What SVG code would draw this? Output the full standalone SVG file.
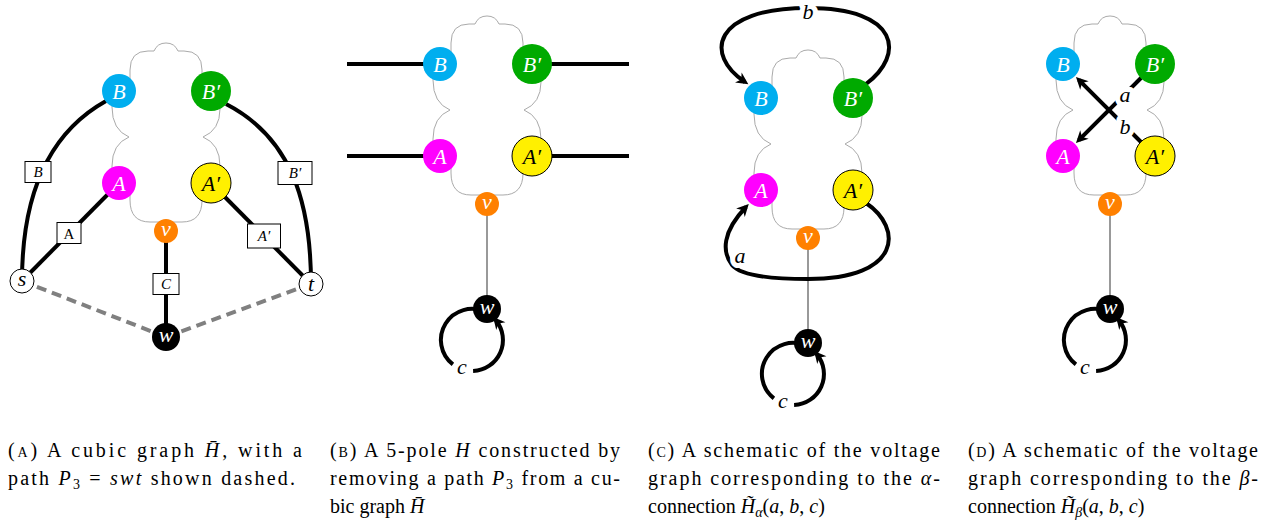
<svg xmlns="http://www.w3.org/2000/svg" width="1272" height="522" viewBox="0 0 1272 522">
<defs>
<path id="cloud" fill="none" stroke="#aaa" stroke-width="1" d="M130,91 L130,70 Q130,51 148,51 L154,51 A13,13 0 0 1 178,51 L184,51 Q202,51 202,70 L202,91 L220,100 L220,109 Q220,130 203,137 Q220,144 220,166 L220,183 L202,183 L202,200 Q202,222 182,222 L150,222 Q130,222 130,200 L130,183 L112,183 L112,166 Q112,144 129,137 Q112,130 112,107 L112,91 Z"/>
<marker id="arr" markerUnits="userSpaceOnUse" orient="auto" refX="-4" refY="0" markerWidth="1" markerHeight="1" overflow="visible">
<path d="M0,0 L-12,-6 L-8.5,0 L-12,6 Z" fill="#000" stroke="none"/>
</marker>
<g id="loop">
<path d="M164.6,339.1 A31,31 0 0 0 131.9,391.4"/>
<path d="M152.1,398 A31,31 0 0 0 174.7,347.1" marker-end="url(#arr)"/>
</g>
</defs>
<g id="clouds">
<use href="#cloud"/>
<use href="#cloud" transform="translate(321,-27)"/>
<use href="#cloud" transform="translate(642,7)"/>
<use href="#cloud" transform="translate(944,-27)"/>
</g>
<g id="connectors" fill="none" stroke="#000" stroke-width="4" font-family="Liberation Serif" font-size="22" font-style="italic" text-anchor="middle">
<g id="conn-a">
<path stroke="#808080" stroke-dasharray="10 6" d="M22,281 L166,337"/>
<path stroke="#808080" stroke-dasharray="10 6" d="M311,284 L166,337"/>
<path d="M106,101 C45,135 22,200 22,281"/>
<path d="M226,104 C290,137 311,200 311,284"/>
<path d="M119,183 L22,281"/>
<path d="M211,183 L311,284"/>
<path d="M166,231 L166,337"/>
<g fill="#fff" stroke="#000" stroke-width="1">
<rect x="25" y="161.5" width="26" height="21"/>
<rect x="57" y="222.5" width="24" height="21"/>
<rect x="278" y="161.5" width="34" height="23"/>
<rect x="247.5" y="224" width="33" height="24"/>
<rect x="153" y="273.5" width="26" height="21"/>
</g>
<g fill="#000" stroke="none" font-size="15">
<text x="38" y="177">B</text>
<text x="69" y="238.5" font-style="normal">A</text>
<text x="295" y="178">B&#8242;</text>
<text x="264" y="241">A&#8242;</text>
<text x="166" y="289">C</text>
</g>
</g>
<g id="conn-b" transform="translate(321,-27)">
<path d="M26,91 L119,91"/>
<path d="M26,183 L119,183"/>
<path d="M211,91 L308,91"/>
<path d="M211,183 L308,183"/>
<path stroke="#555" stroke-width="1.2" d="M166,231 L166,336"/>
<use href="#loop"/>
<text fill="#000" stroke="none" x="141" y="401">c</text>
</g>
<g id="conn-c" transform="translate(642,7)">
<path stroke="#555" stroke-width="1.2" d="M166,231 L166,336"/>
<path d="M224,77 C263,48 258,1 166,1 C70,1 62,48 103,75" marker-end="url(#arr)"/>
<path d="M224,196 C261,221 260,272 166,272 C128,272 98,268 90,258 C80,245 80,225 104,200" marker-end="url(#arr)"/>
<use href="#loop"/>
<g fill="#000" stroke="#fff" stroke-width="10" stroke-linejoin="round" paint-order="stroke">
<text x="166" y="12">b</text>
<text x="98" y="256">a</text>
</g>
<text fill="#000" stroke="none" x="141" y="401">c</text>
</g>
<g id="conn-d" transform="translate(944,-27)">
<path stroke="#555" stroke-width="1.2" d="M166,231 L166,336"/>
<path d="M211,183 L134.8,106.8" marker-end="url(#arr)"/>
<path d="M211,91 L134.8,167.2" marker-end="url(#arr)"/>
<use href="#loop"/>
<g fill="#000" stroke="#fff" stroke-width="10" stroke-linejoin="round" paint-order="stroke">
<text x="181" y="129">a</text>
<text x="181" y="161">b</text>
</g>
<text fill="#000" stroke="none" x="141" y="401">c</text>
</g>
</g>
<g id="panel-a" font-family="Liberation Serif" font-size="22" font-style="italic" text-anchor="middle" fill="#fff">
<g id="a-B"><circle fill="#00AEEF" cx="119" cy="91" r="17"/><text x="119" y="98.5">B</text></g>
<g id="a-Bp"><circle fill="#00AA00" cx="211" cy="91" r="20"/><text x="211" y="98.5">B&#8242;</text></g>
<g id="a-A"><circle fill="#FF00FF" cx="119" cy="183" r="17"/><text x="119" y="190.5">A</text></g>
<g id="a-Ap"><circle fill="#FFF000" stroke="#000" cx="211" cy="183" r="20"/><text fill="#000" x="211" y="190.5">A&#8242;</text></g>
<g id="a-v"><circle fill="#FF8000" cx="166" cy="231" r="12"/><text x="166" y="236">v</text></g>
<g id="a-s"><circle fill="#fff" stroke="#000" cx="22" cy="281" r="12"/><text fill="#000" x="22" y="286">s</text></g>
<g id="a-t"><circle fill="#fff" stroke="#000" cx="311" cy="284" r="12"/><text fill="#000" x="311" y="291">t</text></g>
<g id="a-w"><circle fill="#000" cx="166" cy="337" r="14"/><text x="166" y="342">w</text></g>
</g>
<g id="panel-b" transform="translate(321,-27)" font-family="Liberation Serif" font-size="22" font-style="italic" text-anchor="middle" fill="#fff">
<g id="b-B"><circle fill="#00AEEF" cx="119" cy="91" r="17"/><text x="119" y="98.5">B</text></g>
<g id="b-Bp"><circle fill="#00AA00" cx="211" cy="91" r="20"/><text x="211" y="98.5">B&#8242;</text></g>
<g id="b-A"><circle fill="#FF00FF" cx="119" cy="183" r="17"/><text x="119" y="190.5">A</text></g>
<g id="b-Ap"><circle fill="#FFF000" stroke="#000" cx="211" cy="183" r="20"/><text fill="#000" x="211" y="190.5">A&#8242;</text></g>
<g id="b-v"><circle fill="#FF8000" cx="166" cy="231" r="12"/><text x="166" y="236">v</text></g>
<g id="b-w"><circle fill="#000" cx="166" cy="336" r="14"/><text x="166" y="341">w</text></g>
</g>
<g id="panel-c" transform="translate(642,7)" font-family="Liberation Serif" font-size="22" font-style="italic" text-anchor="middle" fill="#fff">
<g id="c-B"><circle fill="#00AEEF" cx="119" cy="91" r="17"/><text x="119" y="98.5">B</text></g>
<g id="c-Bp"><circle fill="#00AA00" cx="211" cy="91" r="20"/><text x="211" y="98.5">B&#8242;</text></g>
<g id="c-A"><circle fill="#FF00FF" cx="119" cy="183" r="17"/><text x="119" y="190.5">A</text></g>
<g id="c-Ap"><circle fill="#FFF000" stroke="#000" cx="211" cy="183" r="20"/><text fill="#000" x="211" y="190.5">A&#8242;</text></g>
<g id="c-v"><circle fill="#FF8000" cx="166" cy="231" r="12"/><text x="166" y="236">v</text></g>
<g id="c-w"><circle fill="#000" cx="166" cy="336" r="14"/><text x="166" y="341">w</text></g>
</g>
<g id="panel-d" transform="translate(944,-27)" font-family="Liberation Serif" font-size="22" font-style="italic" text-anchor="middle" fill="#fff">
<g id="d-B"><circle fill="#00AEEF" cx="119" cy="91" r="17"/><text x="119" y="98.5">B</text></g>
<g id="d-Bp"><circle fill="#00AA00" cx="211" cy="91" r="20"/><text x="211" y="98.5">B&#8242;</text></g>
<g id="d-A"><circle fill="#FF00FF" cx="119" cy="183" r="17"/><text x="119" y="190.5">A</text></g>
<g id="d-Ap"><circle fill="#FFF000" stroke="#000" cx="211" cy="183" r="20"/><text fill="#000" x="211" y="190.5">A&#8242;</text></g>
<g id="d-v"><circle fill="#FF8000" cx="166" cy="231" r="12"/><text x="166" y="236">v</text></g>
<g id="d-w"><circle fill="#000" cx="166" cy="336" r="14"/><text x="166" y="341">w</text></g>
</g>
<g id="captions" font-family="Liberation Serif" font-size="20" fill="#000">
<text x="8" y="457" textLength="294" lengthAdjust="spacing">(<tspan font-size="14">A</tspan>) A cubic graph <tspan font-style="italic">H&#772;</tspan>, with a</text>
<text x="8" y="485" textLength="287" lengthAdjust="spacing">path <tspan font-style="italic">P</tspan><tspan font-size="14" dy="4">3</tspan><tspan dy="-4"> = </tspan><tspan font-style="italic">swt</tspan> shown dashed.</text>
<text x="330" y="457" textLength="290" lengthAdjust="spacing">(<tspan font-size="14">B</tspan>) A 5-pole <tspan font-style="italic">H</tspan> constructed by</text>
<text x="330" y="485" textLength="290" lengthAdjust="spacing">removing a path <tspan font-style="italic">P</tspan><tspan font-size="14" dy="4">3</tspan><tspan dy="-4"> from a cu-</tspan></text>
<text x="330" y="513">bic graph <tspan font-style="italic">H&#772;</tspan></text>
<text x="648" y="457" textLength="292" lengthAdjust="spacing">(<tspan font-size="14">C</tspan>) A schematic of the voltage</text>
<text x="648" y="485" textLength="292" lengthAdjust="spacing">graph corresponding to the <tspan font-style="italic">&#945;</tspan>-</text>
<text x="648" y="513">connection <tspan font-style="italic">H&#771;</tspan><tspan font-size="14" font-style="italic" dy="4">&#945;</tspan><tspan dy="-4">(</tspan><tspan font-style="italic">a</tspan>, <tspan font-style="italic">b</tspan>, <tspan font-style="italic">c</tspan>)</text>
<text x="968" y="457" textLength="290" lengthAdjust="spacing">(<tspan font-size="14">D</tspan>) A schematic of the voltage</text>
<text x="968" y="485" textLength="290" lengthAdjust="spacing">graph corresponding to the <tspan font-style="italic">&#946;</tspan>-</text>
<text x="968" y="513">connection <tspan font-style="italic">H&#771;</tspan><tspan font-size="14" font-style="italic" dy="4">&#946;</tspan><tspan dy="-4">(</tspan><tspan font-style="italic">a</tspan>, <tspan font-style="italic">b</tspan>, <tspan font-style="italic">c</tspan>)</text>
</g>
</svg>
